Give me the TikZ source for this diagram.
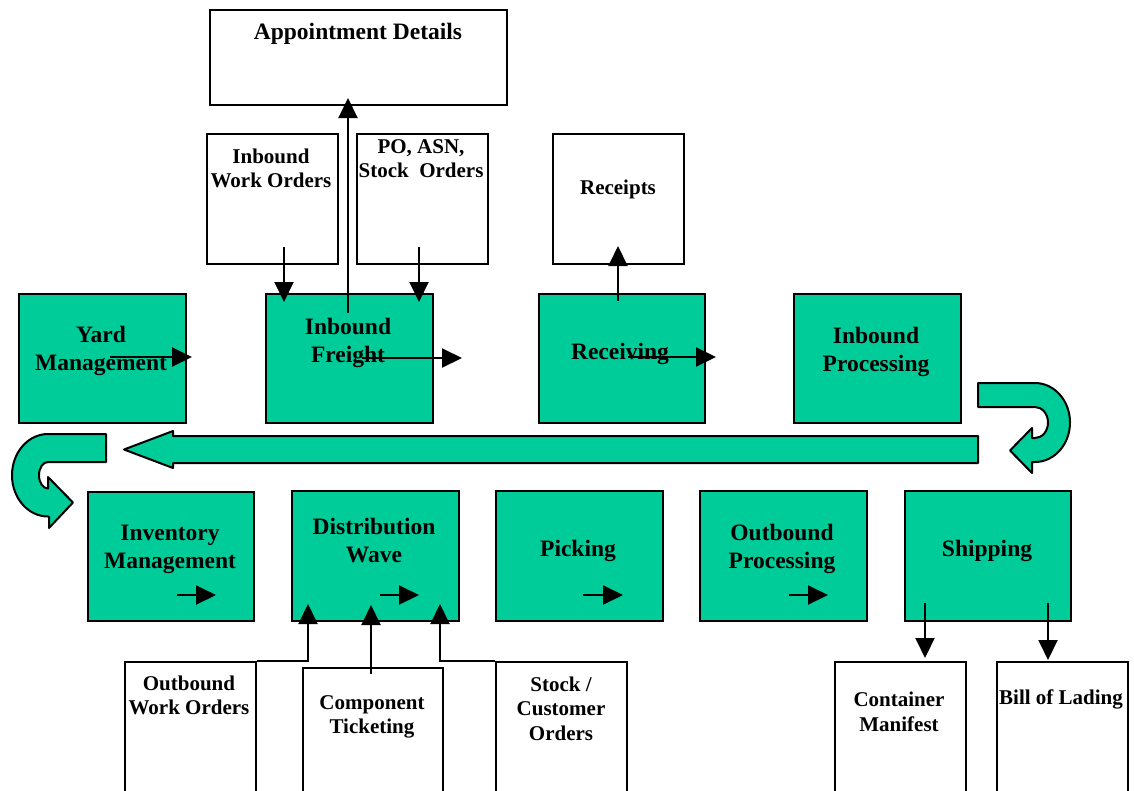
\documentclass[tikz,border=0pt]{standalone}
\usepackage{fontspec}
\setmainfont{Liberation Serif}
\usetikzlibrary{arrows.meta}
\definecolor{seagreen}{RGB}{0,204,153}

\begin{document}
\begin{tikzpicture}[x=1pt,y=-1pt,
  gbox/.style={draw=black,line width=2.2pt,fill=seagreen,inner sep=0pt,anchor=north west},
  wbox/.style={draw=black,line width=2pt,fill=white,inner sep=0pt,anchor=north west},
  gtext/.style={align=center,inner sep=0pt,font=\bfseries\fontsize{23.5}{28}\selectfont},
  wtext/.style={align=center,inner sep=0pt,font=\bfseries\fontsize{21}{24.5}\selectfont},
  arr/.style={line width=2pt,-{Triangle[length=20pt,width=19pt]}},
  bigarrow/.style={draw=black,line width=2pt,fill=seagreen,line join=round}]

\clip (0,0) rectangle (1134,790);

% process steps, upper row
\node[gbox,minimum width=167pt,minimum height=129pt] (yard) at (18,293) {};
\node[gbox,minimum width=167pt,minimum height=129pt] (ifr)  at (265,293) {};
\node[gbox,minimum width=166pt,minimum height=129pt] (rcv)  at (538,293) {};
\node[gbox,minimum width=167pt,minimum height=129pt] (inp)  at (793,293) {};

% process steps, lower row
\node[gbox,minimum width=166pt,minimum height=129pt] (inv)  at (87,491) {};
\node[gbox,minimum width=167pt,minimum height=130pt] (dw)   at (291,490) {};
\node[gbox,minimum width=167pt,minimum height=130pt] (pick) at (495,490) {};
\node[gbox,minimum width=167pt,minimum height=130pt] (obp)  at (699,490) {};
\node[gbox,minimum width=166pt,minimum height=130pt] (ship) at (904,490) {};

% documents
\node[wbox,minimum width=297pt,minimum height=95pt]  (appt) at (209,9) {};
\node[wbox,minimum width=131pt,minimum height=130pt] (iwo)  at (206,133) {};
\node[wbox,minimum width=131pt,minimum height=130pt] (po)   at (356,133) {};
\node[wbox,minimum width=131pt,minimum height=130pt] (rec)  at (552,133) {};
\node[wbox,minimum width=131pt,minimum height=140pt] (owo)  at (124,661) {};
\node[wbox,minimum width=140pt,minimum height=140pt] (ct)   at (302,667) {};
\node[wbox,minimum width=131pt,minimum height=140pt] (sco)  at (495,661) {};
\node[wbox,minimum width=131pt,minimum height=140pt] (cm)   at (834,661) {};
\node[wbox,minimum width=131pt,minimum height=140pt] (bol)  at (996,661) {};

% labels
\node[gtext] (yardt) at (101,351) {Yard\\Management};
\node[gtext] (ifrt)  at (348,343) {Inbound\\Freight};
\node[gtext] (rcvt)  at (620,353.5) {Receiving};
\node[gtext] (inpt)  at (876,351.5) {Inbound\\Processing};
\node[gtext] (invt)  at (170,549.5) {Inventory\\Management};
\node[gtext] (dwt)   at (374,540.5) {Distribution\\Wave};
\node[gtext] (pickt) at (578,551) {Picking};
\node[gtext] (obpt)  at (782,548.5) {Outbound\\Processing};
\node[gtext] (shipt) at (987,551) {Shipping};
\node[gtext] (apptt) at (358,34) {Appointment Details};
\node[wtext] (iwot)  at (271,168.5) {Inbound\\Work Orders};
\node[wtext] (pot)   at (421,158.5) {PO, ASN,\\Stock\ \ Orders};
\node[wtext] (rect)  at (618,189.5) {Receipts};
\node[wtext] (owot)  at (189,695.5) {Outbound\\Work Orders};
\node[wtext] (ctt)   at (372,717) {Component\\Ticketing};
\node[wtext] (scot)  at (561,708.5) {Stock /\\Customer\\Orders};
\node[wtext] (cmt)   at (899,712) {Container\\Manifest};
\node[wtext] (bolt)  at (1061,699.5) {Bill of Lading};

% return flow: U-turn, long arrow back, U-turn
\draw[bigarrow] (978,383) -- (1035,383)
  .. controls (1054.3,383) and (1070,400.7) .. (1070,422.5)
  .. controls (1070,444.3) and (1054.3,462) .. (1035,462)
  -- (1032,462) -- (1032,473) -- (1010,450.5) -- (1032,428) -- (1032,438) -- (1035,438)
  .. controls (1042.2,438) and (1048,431.1) .. (1048,422.5)
  .. controls (1048,413.9) and (1042.2,407) .. (1035,407)
  -- (978,407) -- cycle;

\draw[bigarrow] (978,436) -- (173,436) -- (173,431) -- (124,449.5) -- (173,468)
  -- (173,463) -- (978,463) -- cycle;

\draw[bigarrow] (106,434) -- (48,434)
  .. controls (28.1,434) and (12,452.5) .. (12,475.25)
  .. controls (12,498) and (28.1,516.5) .. (48,516.5)
  -- (49,516.5) -- (49,528) -- (73,502.5) -- (48,477) -- (48,488.5)
  .. controls (43,488.5) and (39,482.6) .. (39,475.25)
  .. controls (39,467.9) and (43,462) .. (48,462)
  -- (106,462) -- cycle;

% end points of the flow arrows
\coordinate (ya) at (110,357);  \coordinate (yb) at (192,357);
\coordinate (fa) at (362,358);  \coordinate (fb) at (462,358);
\coordinate (ra) at (628,357);  \coordinate (rb) at (716,357);
\coordinate (fu) at (348,313);  \coordinate (au) at (348,98);
\coordinate (wd) at (284,247);  \coordinate (wf) at (284,302);
\coordinate (pd) at (419,247);  \coordinate (pf) at (419,302);
\coordinate (ru) at (618,301);  \coordinate (re) at (618,246);
\coordinate (ia) at (177,595);  \coordinate (ib) at (216,595);
\coordinate (da) at (380,595);  \coordinate (db) at (419,595);
\coordinate (ka) at (583,595);  \coordinate (kb) at (623,595);
\coordinate (oa) at (789,595);  \coordinate (ob) at (828,595);
\coordinate (d1) at (308,604);
\coordinate (ca) at (371,674);  \coordinate (d2) at (371,605);
\coordinate (d3) at (440,604);
\coordinate (s1) at (925,603);  \coordinate (c1) at (925,658);
\coordinate (s2) at (1048,603); \coordinate (c2) at (1048,660);

% flow arrows
\draw[arr] (ya) -- (yb);
\draw[arr] (fa) -- (fb);
\draw[arr] (ra) -- (rb);
\draw[arr] (fu) -- (au);
\draw[arr] (wd) -- (wf);
\draw[arr] (pd) -- (pf);
\draw[arr] (ru) -- (re);
\draw[arr] (ia) -- (ib);
\draw[arr] (da) -- (db);
\draw[arr] (ka) -- (kb);
\draw[arr] (oa) -- (ob);
\draw[arr] (owo.north east) -| (d1);
\draw[arr] (ca) -- (d2);
\draw[arr] (sco.north west) -| (d3);
\draw[arr] (s1) -- (c1);
\draw[arr] (s2) -- (c2);
\end{tikzpicture}
\end{document}
